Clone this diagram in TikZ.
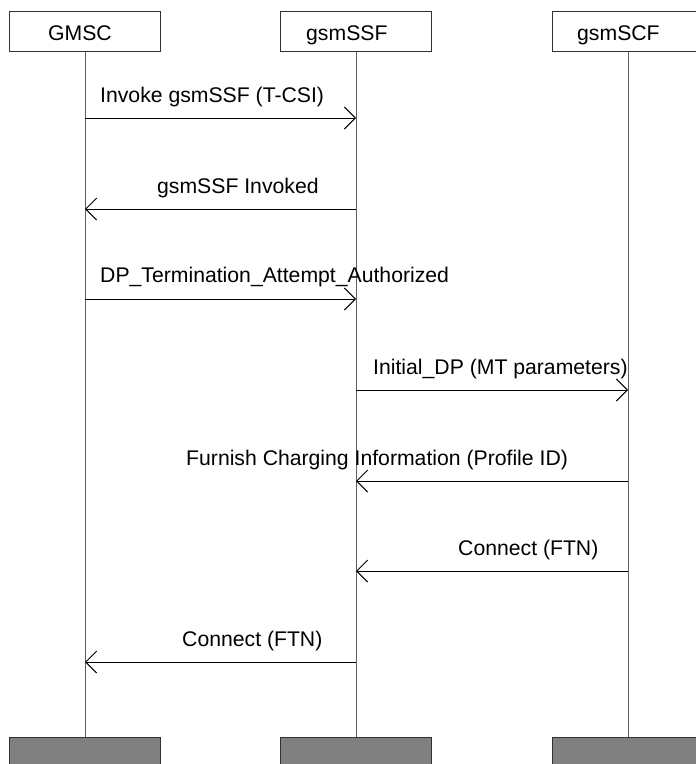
\documentclass[tikz,border=0pt]{standalone}
\usepackage{fontspec}
\setmainfont{Liberation Sans}
\usetikzlibrary{arrows.meta}
\definecolor{lifeline}{RGB}{95,95,95}
\definecolor{boxfill}{RGB}{128,128,128}
\definecolor{boxline}{RGB}{50,50,50}
\begin{document}
\begin{tikzpicture}[x=1bp,y=-1bp,
  topbox/.style={draw=boxline, line width=1bp, minimum width=151bp, minimum height=40bp, inner sep=0pt, outer sep=0pt},
  endbox/.style={draw=boxline, fill=boxfill, line width=1bp, minimum width=151bp, minimum height=34bp, inner sep=0pt, outer sep=0pt},
  lbl/.style={anchor=base west, inner sep=0pt, font=\fontsize{21.2bp}{25bp}\selectfont},
  life/.style={draw=lifeline, line width=1bp},
  msg/.style={draw=black, line width=1bp, -{Straight Barb[length=11bp,width=22bp]}}]
\useasboundingbox (0,0) rectangle (696,764);
\clip (0,0) rectangle (696,764);
% heads
\node[topbox] (gmsc) at (85,32) {};
\node[topbox] (ssf) at (356,32) {};
\node[topbox] (scf) at (628,32) {};
\node[lbl] (gmscT) at (48,41) {GMSC};
\node[lbl] (ssfT) at (306,41) {gsmSSF};
\node[lbl] (scfT) at (577,41) {gsmSCF};
% feet
\node[endbox] (gmscE) at (85,754) {};
\node[endbox] (ssfE) at (356,754) {};
\node[endbox] (scfE) at (628,754) {};
% lifelines
\draw[life] (gmsc.south) -- (gmscE.north);
\draw[life] (ssf.south) -- (ssfE.north);
\draw[life] (scf.south) -- (scfE.north);
% message end points
\coordinate (a1) at (85,118);  \coordinate (b1) at (356,118);
\coordinate (a2) at (85,209);  \coordinate (b2) at (356,209);
\coordinate (a3) at (85,299);  \coordinate (b3) at (356,299);
\coordinate (b4) at (356,390); \coordinate (c4) at (628,390);
\coordinate (b5) at (356,481); \coordinate (c5) at (628,481);
\coordinate (b6) at (356,571); \coordinate (c6) at (628,571);
\coordinate (a7) at (85,662);  \coordinate (b7) at (356,662);
% messages
\draw[msg] (a1) -- (b1);
\node[lbl] (l1) at (100,102) {Invoke gsmSSF (T-CSI)};
\draw[msg] (b2) -- (a2);
\node[lbl] (l2) at (157,193) {gsmSSF Invoked};
\draw[msg] (a3) -- (b3);
\node[lbl] (l3) at (100,282) {DP\_Termination\_Attempt\_Authorized};
\draw[msg] (b4) -- (c4);
\node[lbl] (l4) at (373,374) {Initial\_DP (MT parameters)};
\draw[msg] (c5) -- (b5);
\node[lbl] (l5) at (186,465) {Furnish Charging Information (Profile ID)};
\draw[msg] (c6) -- (b6);
\node[lbl] (l6) at (458,555) {Connect (FTN)};
\draw[msg] (b7) -- (a7);
\node[lbl] (l7) at (182,646) {Connect (FTN)};
\end{tikzpicture}
\end{document}
